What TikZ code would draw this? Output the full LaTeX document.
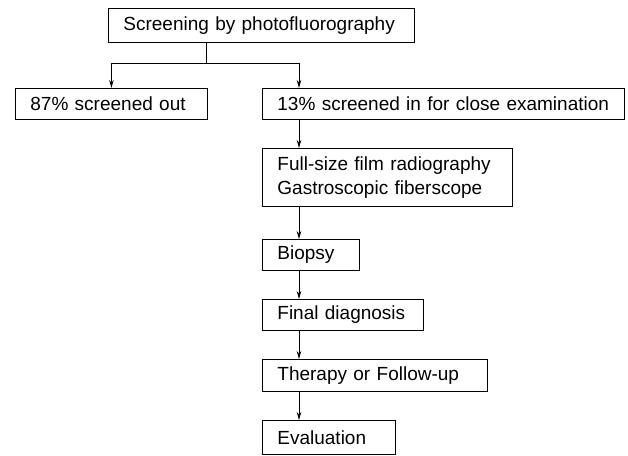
\documentclass[tikz,border=0pt]{standalone}
\usepackage{fontspec}
\setmainfont{Liberation Sans}
\usetikzlibrary{arrows.meta}
\tikzset{
  box/.style={draw, line width=0.8pt, anchor=north west, inner xsep=15pt, inner ysep=0pt,
    align=left, font=\fontsize{19}{24}\selectfont},
  conn/.style={line width=0.8pt},
  arr/.style={conn, -{Stealth[length=8pt,width=4.5pt]}}
}
\begin{document}
\begin{tikzpicture}[x=1pt,y=-1pt]
\useasboundingbox (0,0) rectangle (628,455);
\node[box, text width=276pt, minimum height=34pt] (top) at (108,8) {Screening by photofluorography};
\node[box, text width=162pt, minimum height=31pt] (out) at (15,88) {87\% screened out};
\node[box, text width=332pt, minimum height=31pt] (in) at (262,88) {13\% screened in for close examination};
\node[box, text width=220pt, minimum height=58pt] (full) at (262,148) {Full-size film radiography\\Gastroscopic fiberscope};
\node[box, text width=67pt, minimum height=31pt] (bio) at (262,239) {Biopsy};
\node[box, text width=131pt, minimum height=31pt] (fin) at (262,299) {Final diagnosis};
\node[box, text width=195pt, minimum height=32pt] (ther) at (262,359) {Therapy or Follow-up};
\node[box, text width=103pt, minimum height=34pt] (eval) at (262,420) {Evaluation};
\coordinate (j) at (206,63);
\coordinate (sp) at (299,63);
\draw[conn] (top.south -| j) -- (j);
\draw[arr] (j) -| (out.north);
\draw[arr] (j) -- (sp) -- (in.north -| sp);
\draw[arr] (in.south -| sp) -- (full.north -| sp);
\draw[arr] (full.south -| sp) -- (bio.north -| sp);
\draw[arr] (bio.south -| sp) -- (fin.north -| sp);
\draw[arr] (fin.south -| sp) -- (ther.north -| sp);
\draw[arr] (ther.south -| sp) -- (eval.north -| sp);
\end{tikzpicture}
\end{document}
